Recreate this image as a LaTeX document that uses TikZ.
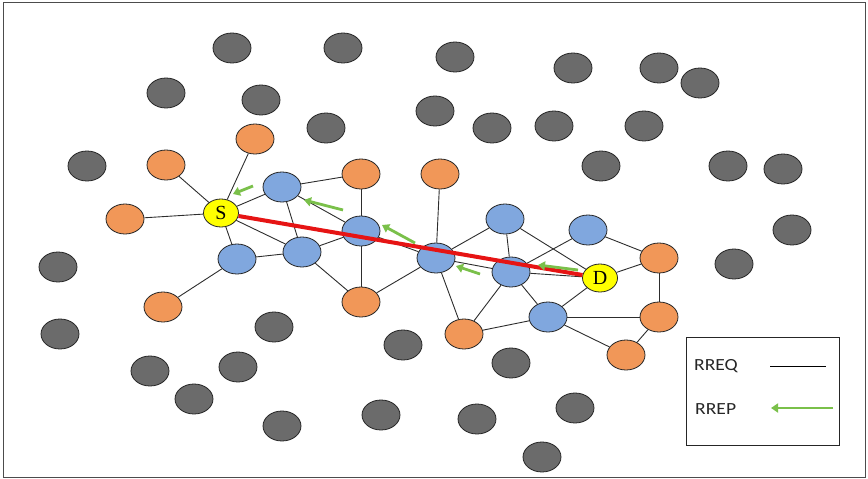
\documentclass[tikz,border=0pt]{standalone}
\usepackage{fontspec}
\setmainfont{Liberation Serif}
\newfontfamily\legfont{Carlito}
\usetikzlibrary{arrows.meta}
\definecolor{gfill}{RGB}{107,107,107}
\definecolor{ofill}{RGB}{241,151,88}
\definecolor{bfill}{RGB}{128,167,222}
\definecolor{yfill}{RGB}{255,255,0}
\definecolor{rrep}{RGB}{122,192,74}
\definecolor{edgec}{RGB}{45,45,45}
\definecolor{redc}{RGB}{230,20,20}
\tikzset{
  nodebase/.style={ellipse, draw=black!85, line width=0.8pt, minimum width=38pt, minimum height=30pt, inner sep=0pt},
  gnode/.style={nodebase, fill=gfill},
  onode/.style={nodebase, fill=ofill},
  bnode/.style={nodebase, fill=bfill},
  ynode/.style={nodebase, fill=yfill, minimum width=35pt, minimum height=28pt, font=\fontsize{20}{20}\selectfont},
  rreq/.style={draw=edgec, line width=0.9pt},
  rrepar/.style={draw=rrep, line width=2.8pt, -{Triangle[length=7pt,width=9pt]}},
  pathred/.style={draw=redc, line width=4pt},
  legtext/.style={anchor=west, inner sep=0pt, text=black!85, font=\legfont\fontsize{17}{17}\selectfont, xscale=1.15}
}
\usetikzlibrary{shapes.geometric}
\begin{document}
\begin{tikzpicture}[x=1pt,y=-1pt]
\useasboundingbox (0,0) rectangle (868,479);
\draw[black!70, line width=0.8pt] (3,2) rectangle (865,477);
% gray nodes
\foreach \p [count=\i] in {(232,48),(343,48),(455,57),(573,68),(659,68),(700,83),(166,93),(261,100),(435,111),(326,128),(492,128),(554,126),(644,126),(87,166),(601,166),(728,166),(783,169),(792,230),(58,267),(734,264),(60,334),(274,327),(403,345),(150,371),(238,367),(511,363),(194,399),(282,426),(381,415),(477,419),(575,408),(542,457)}
  \node[gnode] (g\i) at \p {};
% orange nodes
\node[onode] (o1) at (255,139) {};
\node[onode] (o2) at (166,165) {};
\node[onode] (o3) at (125,219) {};
\node[onode] (o4) at (361,174) {};
\node[onode] (o5) at (440,174) {};
\node[onode] (o6) at (163,307) {};
\node[onode] (o7) at (361,302) {};
\node[onode] (o8) at (464,334) {};
\node[onode] (o9) at (659,258) {};
\node[onode] (o10) at (659,317) {};
\node[onode] (o11) at (626,355) {};
% blue nodes
\node[bnode] (b1) at (282,187) {};
\node[bnode] (b2) at (237,259) {};
\node[bnode] (b3) at (302,252) {};
\node[bnode] (b4) at (361,231) {};
\node[bnode] (b5) at (436,258) {};
\node[bnode] (b6) at (505,219) {};
\node[bnode] (b7) at (588,230) {};
\node[bnode] (b8) at (511,272) {};
\node[bnode] (b9) at (548,317) {};
% source and destination
\node[ynode] (S) at (221,213) {S};
\node[ynode] (D) at (600,278) {D};
% RREQ links
\foreach \a/\b in {S/o2,S/o1,S/o3,S/b1,S/b2,S/b3,b1/b4,b1/b3,b1/o4,b2/b3,b2/o6,b3/b4,b3/o7,b4/o4,b4/o7,o7/b5,b4/b5,b5/o5,b5/b6,b5/b8,b5/o8,b6/b8,b6/D,b7/b8,b7/o9,D/o9,D/b9,o9/o10,b9/o10,b9/o11,o10/o11,b8/b9,b8/o8,o8/b9,b8/D}
  \draw[rreq] (\a) -- (\b);
% route
\draw[pathred] (S) -- (D);
% RREP arrows
\coordinate (a1s) at (253,186); \coordinate (a1e) at (233,194);
\coordinate (a2s) at (343,210); \coordinate (a2e) at (304,200);
\coordinate (a3s) at (415,243); \coordinate (a3e) at (382,225);
\coordinate (a4s) at (480,274); \coordinate (a4e) at (456,266);
\coordinate (a5s) at (578,270); \coordinate (a5e) at (538,265);
\foreach \k in {1,...,5} \draw[rrepar] (a\k s) -- (a\k e);
% legend
\node[draw=black!85, line width=0.8pt, minimum width=153pt, minimum height=108pt, inner sep=0pt] (leg) at (762.5,391) {};
\node[legtext] (t1) at (694,366) {RREQ};
\node[legtext] (t2) at (695,409) {RREP};
\coordinate (l1s) at (770,366); \coordinate (l1e) at (826,366);
\draw[draw=black, line width=0.8pt] (l1s) -- (l1e);
\coordinate (l2s) at (833,408); \coordinate (l2e) at (771,408);
\draw[rrepar] (l2s) -- (l2e);
\end{tikzpicture}
\end{document}
